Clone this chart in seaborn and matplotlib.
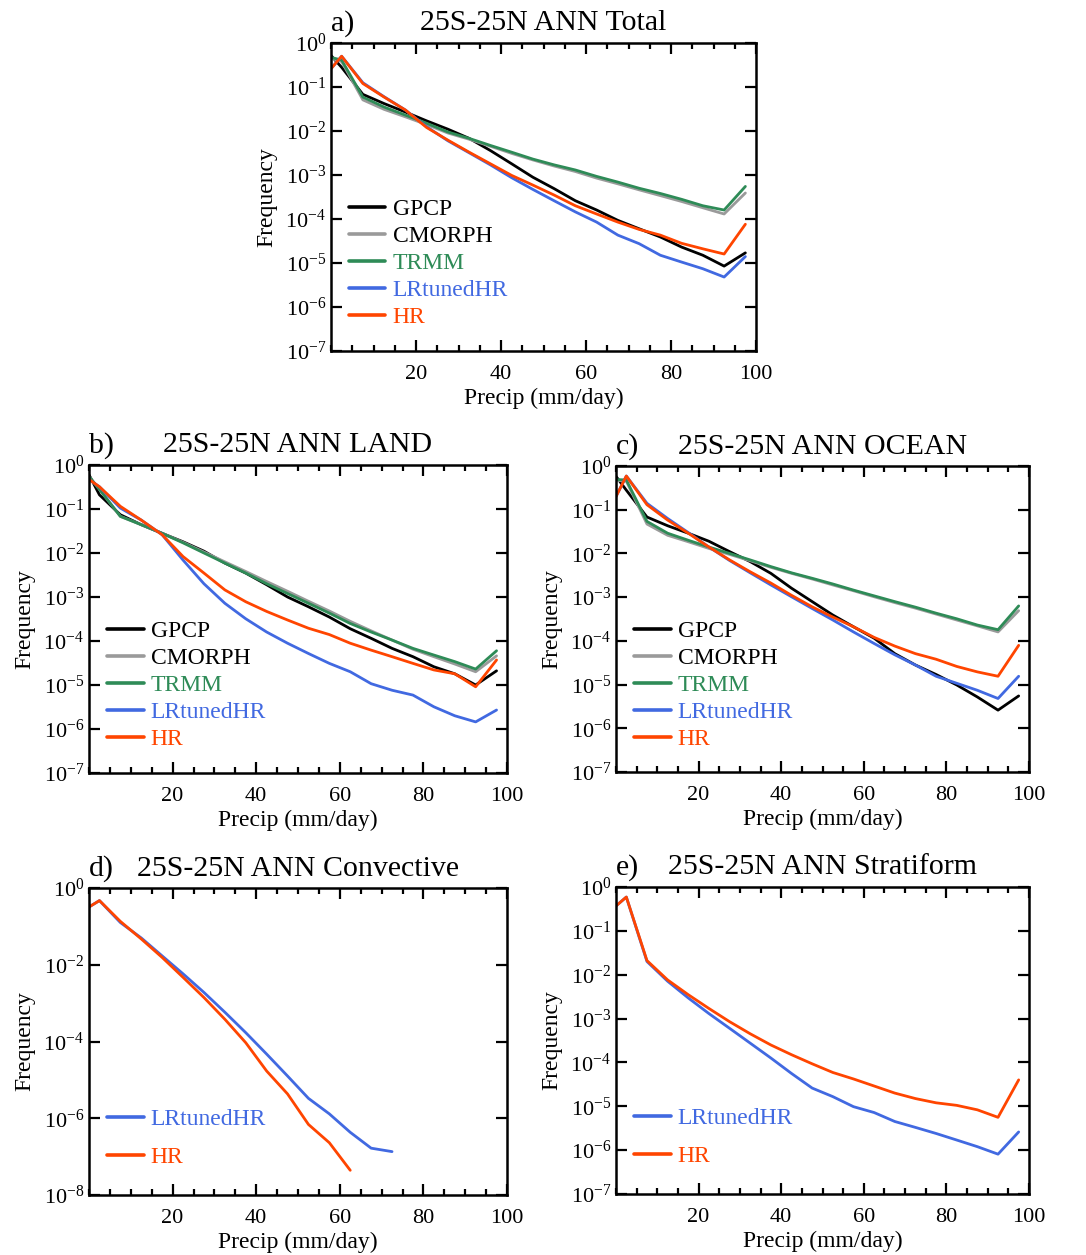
import math
import matplotlib
matplotlib.use("Agg")
import matplotlib.pyplot as plt
import seaborn as sns
from matplotlib.ticker import FixedLocator, MultipleLocator, FuncFormatter, NullLocator

# Bin centres of daily precipitation (mm/day)
precip = [0, 2.5, 7.5, 12.5, 17.5, 22.5, 27.5, 32.5, 37.5, 42.5, 47.5,
          52.5, 57.5, 62.5, 67.5, 72.5, 77.5, 82.5, 87.5, 92.5, 97.5]

# a) Total
total_gpcp = [0.52, 0.28, 6.8e-2, 4.2e-2, 2.7e-2, 1.7e-2, 1.1e-2, 6.8e-3, 3.6e-3, 1.8e-3, 8.9e-4,
              4.9e-4, 2.6e-4, 1.6e-4, 9.3e-5, 6.0e-5, 3.9e-5, 2.3e-5, 1.5e-5, 8.5e-6, 1.7e-5]
total_cmorph = [0.45, 0.38, 5.1e-2, 3.1e-2, 2.1e-2, 1.4e-2, 9.0e-3, 6.5e-3, 4.5e-3, 3.1e-3, 2.2e-3,
                1.6e-3, 1.2e-3, 8.5e-4, 6.3e-4, 4.6e-4, 3.4e-4, 2.5e-4, 1.8e-4, 1.3e-4, 3.9e-4]
total_trmm = [0.47, 0.41, 5.9e-2, 3.5e-2, 2.3e-2, 1.5e-2, 9.5e-3, 6.8e-3, 4.7e-3, 3.3e-3, 2.3e-3,
              1.7e-3, 1.3e-3, 9.3e-4, 6.9e-4, 5.0e-4, 3.8e-4, 2.8e-4, 2.0e-4, 1.6e-4, 5.5e-4]
total_lrtuned = [0.26, 0.50, 1.25e-1, 6.0e-2, 3.0e-2, 1.25e-2, 6.0e-3, 3.2e-3, 1.7e-3, 8.7e-4, 4.7e-4,
                 2.6e-4, 1.45e-4, 8.5e-5, 4.3e-5, 2.75e-5, 1.5e-5, 1.05e-5, 7.4e-6, 4.8e-6, 1.4e-5]
total_hr = [0.26, 0.50, 1.2e-1, 5.9e-2, 3.0e-2, 1.2e-2, 6.2e-3, 3.3e-3, 1.8e-3, 9.8e-4, 5.9e-4,
            3.5e-4, 2.0e-4, 1.3e-4, 8.5e-5, 5.8e-5, 4.3e-5, 2.8e-5, 2.1e-5, 1.6e-5, 7.6e-5]

# b) Land
land_gpcp = [0.60, 0.21, 7.4e-2, 4.4e-2, 2.8e-2, 1.8e-2, 1.1e-2, 5.9e-3, 3.5e-3, 1.9e-3, 1.0e-3,
             6.0e-4, 3.5e-4, 1.9e-4, 1.15e-4, 6.8e-5, 4.4e-5, 2.6e-5, 1.8e-5, 1.0e-5, 2.1e-5]
land_cmorph = [0.55, 0.28, 6.8e-2, 4.4e-2, 2.8e-2, 1.75e-2, 1.05e-2, 6.3e-3, 3.8e-3, 2.25e-3, 1.35e-3,
               8.0e-4, 4.8e-4, 2.8e-4, 1.7e-4, 1.05e-4, 6.5e-5, 4.4e-5, 3.0e-5, 2.0e-5, 4.6e-5]
land_trmm = [0.55, 0.28, 6.8e-2, 4.4e-2, 2.8e-2, 1.7e-2, 1.0e-2, 5.9e-3, 3.5e-3, 2.0e-3, 1.2e-3,
             7.2e-4, 4.3e-4, 2.5e-4, 1.6e-4, 1.05e-4, 6.8e-5, 4.8e-5, 3.4e-5, 2.3e-5, 6.0e-5]
land_lrtuned = [0.47, 0.32, 1.05e-1, 5.6e-2, 2.6e-2, 6.9e-3, 2.0e-3, 7.2e-4, 3.2e-4, 1.6e-4, 8.9e-5,
                5.2e-5, 3.1e-5, 2.0e-5, 1.07e-5, 7.6e-6, 5.9e-6, 3.2e-6, 2.0e-6, 1.45e-6, 2.7e-6]
land_hr = [0.47, 0.32, 1.15e-1, 5.6e-2, 2.6e-2, 8.3e-3, 3.5e-3, 1.45e-3, 7.8e-4, 4.7e-4, 3.0e-4,
           1.95e-4, 1.4e-4, 8.9e-5, 6.2e-5, 4.4e-5, 3.1e-5, 2.2e-5, 1.8e-5, 9.1e-6, 3.7e-5]

# c) Ocean
ocean_gpcp = [0.58, 0.28, 6.8e-2, 4.3e-2, 2.9e-2, 1.9e-2, 1.1e-2, 6.5e-3, 3.5e-3, 1.6e-3, 7.9e-4,
              3.9e-4, 2.1e-4, 1.15e-4, 5.1e-5, 2.8e-5, 1.7e-5, 9.8e-6, 5.2e-6, 2.6e-6, 5.5e-6]
ocean_cmorph = [0.47, 0.45, 4.7e-2, 2.6e-2, 1.85e-2, 1.3e-2, 9.5e-3, 6.8e-3, 4.8e-3, 3.5e-3, 2.6e-3,
                1.9e-3, 1.4e-3, 1.02e-3, 7.5e-4, 5.6e-4, 4.1e-4, 3.0e-4, 2.2e-4, 1.6e-4, 4.9e-4]
ocean_trmm = [0.49, 0.48, 5.4e-2, 2.9e-2, 2.0e-2, 1.4e-2, 1.0e-2, 7.1e-3, 5.0e-3, 3.6e-3, 2.7e-3,
              2.0e-3, 1.45e-3, 1.07e-3, 7.9e-4, 5.9e-4, 4.3e-4, 3.2e-4, 2.3e-4, 1.8e-4, 6.3e-4]
ocean_lrtuned = [0.20, 0.59, 1.4e-1, 6.3e-2, 3.0e-2, 1.4e-2, 6.9e-3, 3.6e-3, 1.9e-3, 1.02e-3, 5.5e-4,
                 3.0e-4, 1.6e-4, 8.7e-5, 4.8e-5, 2.8e-5, 1.55e-5, 1.07e-5, 7.4e-6, 4.8e-6, 1.55e-5]
ocean_hr = [0.20, 0.59, 1.3e-1, 5.8e-2, 2.9e-2, 1.4e-2, 7.1e-3, 3.8e-3, 2.1e-3, 1.1e-3, 6.0e-4,
            3.5e-4, 2.1e-4, 1.2e-4, 7.6e-5, 5.1e-5, 3.8e-5, 2.6e-5, 1.95e-5, 1.55e-5, 7.9e-5]

# d) Convective (series stop where counts vanish)
conv_lrtuned = [0.32, 0.47, 1.26e-1, 5.0e-2, 1.7e-2, 5.8e-3, 1.9e-3, 5.8e-4, 1.7e-4, 4.7e-5, 1.26e-5,
                3.3e-6, 1.3e-6, 4.3e-7, 1.66e-7, 1.35e-7]
conv_hr = [0.32, 0.47, 1.35e-1, 4.7e-2, 1.55e-2, 4.7e-3, 1.4e-3, 3.8e-4, 9.3e-5, 1.7e-5, 4.3e-6,
           6.9e-7, 2.3e-7, 4.4e-8]

# e) Stratiform
strat_lrtuned = [0.37, 0.59, 2.0e-2, 7.1e-3, 2.95e-3, 1.3e-3, 6.0e-4, 2.75e-4, 1.26e-4, 5.6e-5, 2.6e-5,
                 1.66e-5, 9.8e-6, 7.2e-6, 4.5e-6, 3.3e-6, 2.4e-6, 1.7e-6, 1.2e-6, 8.1e-7, 2.6e-6]
strat_hr = [0.37, 0.59, 2.1e-2, 7.6e-3, 3.5e-3, 1.7e-3, 8.5e-4, 4.5e-4, 2.5e-4, 1.5e-4, 9.3e-5,
            5.9e-5, 4.2e-5, 2.9e-5, 2.0e-5, 1.5e-5, 1.2e-5, 1.05e-5, 8.3e-6, 5.6e-6, 4.0e-5]

names = ["GPCP", "CMORPH", "TRMM", "LRtunedHR", "HR"]
line_colors = {"GPCP": "#000000", "CMORPH": "#9a9a9a", "TRMM": "#2e8b57",
               "LRtunedHR": "#4169e1", "HR": "#ff4500"}
text_colors = {"GPCP": "#000000", "CMORPH": "#000000", "TRMM": "#2e8b57",
               "LRtunedHR": "#4169e1", "HR": "#ff4500"}

sns.set_theme(style="ticks")
plt.rcParams["font.family"] = ["Liberation Serif", "DejaVu Serif"]
plt.rcParams["mathtext.fontset"] = "custom"
plt.rcParams["mathtext.rm"] = "Liberation Serif"
plt.rcParams["mathtext.it"] = "Liberation Serif:italic"
plt.rcParams["mathtext.bf"] = "Liberation Serif:bold"
for key in ["text.color", "axes.labelcolor", "xtick.color", "ytick.color",
            "axes.edgecolor"]:
    plt.rcParams[key] = "black"

W, H = 1086, 1255
fig = plt.figure(figsize=(W / 100, H / 100), dpi=100)
fig.patch.set_facecolor("white")


def make_axes(left, top, right, bottom):
    return fig.add_axes([left / W, 1 - bottom / H, (right - left) / W, (bottom - top) / H])


def pow10(v, pos):
    return r"$10^{%d}$" % round(math.log10(v))


def style_axes(ax, letter, title, yticks, ylim):
    ax.set_yscale("log")
    ax.set_xlim(0, 100)
    ax.set_ylim(*ylim)
    ax.xaxis.set_major_locator(FixedLocator([20, 40, 60, 80, 100]))
    ax.xaxis.set_minor_locator(MultipleLocator(5))
    ax.yaxis.set_major_locator(FixedLocator(yticks))
    ax.yaxis.set_major_formatter(FuncFormatter(pow10))
    ax.yaxis.set_minor_locator(NullLocator())
    ax.tick_params(which="both", direction="in", top=True, right=True,
                   labelsize=16, colors="black", width=1.6)
    ax.tick_params(which="major", length=8)
    ax.tick_params(which="minor", length=4)
    ax.tick_params(axis="x", which="major", pad=10)
    ax.tick_params(axis="y", which="major", pad=3.5)
    for s in ax.spines.values():
        s.set_linewidth(1.8)
        s.set_color("black")
    ax.set_xlabel("Precip (mm/day)", fontsize=17, labelpad=3)
    ax.set_ylabel("Frequency", fontsize=17, labelpad=6)
    ax.set_title(title, fontsize=21.5, pad=9, color="black")
    ax.set_title(letter, loc="left", fontsize=21.5, pad=9, color="black")


def draw(ax, series, order, anchor, spacing):
    for name in order:
        sns.lineplot(x=precip[:len(series[name])], y=series[name], ax=ax,
                     color=line_colors[name], lw=2.0, label=name, sort=False,
                     estimator=None)
    leg = ax.legend(loc="upper left", bbox_to_anchor=anchor, frameon=False,
                    fontsize=17, handlelength=1.55, handletextpad=0.3,
                    borderpad=0, borderaxespad=0, labelspacing=spacing)
    for t, name in zip(leg.get_texts(), order):
        t.set_color(text_colors[name])
    for h in leg.get_lines():
        h.set_linewidth(2.6)


dec7 = [1e0, 1e-1, 1e-2, 1e-3, 1e-4, 1e-5, 1e-6, 1e-7]

ax_a = make_axes(331, 43, 756, 351)
draw(ax_a, {"GPCP": total_gpcp, "CMORPH": total_cmorph, "TRMM": total_trmm,
            "LRtunedHR": total_lrtuned, "HR": total_hr}, names, (0.042, 0.494), 0.23)
style_axes(ax_a, "a)", "25S-25N ANN Total", dec7, (1e-7, 1))

ax_b = make_axes(89, 465, 507, 773)
draw(ax_b, {"GPCP": land_gpcp, "CMORPH": land_cmorph, "TRMM": land_trmm,
            "LRtunedHR": land_lrtuned, "HR": land_hr}, names, (0.043, 0.494), 0.23)
style_axes(ax_b, "b)", "25S-25N ANN LAND", dec7, (1e-7, 1))

ax_c = make_axes(616, 466, 1029, 772)
draw(ax_c, {"GPCP": ocean_gpcp, "CMORPH": ocean_cmorph, "TRMM": ocean_trmm,
            "LRtunedHR": ocean_lrtuned, "HR": ocean_hr}, names, (0.044, 0.494), 0.23)
style_axes(ax_c, "c)", "25S-25N ANN OCEAN", dec7, (1e-7, 1))

ax_d = make_axes(89, 888, 507, 1195)
draw(ax_d, {"LRtunedHR": conv_lrtuned, "HR": conv_hr}, ["LRtunedHR", "HR"],
     (0.043, 0.282), 0.69)
style_axes(ax_d, "d)", "25S-25N ANN Convective", [1e0, 1e-2, 1e-4, 1e-6, 1e-8], (1e-8, 1))

ax_e = make_axes(616, 887, 1029, 1194)
draw(ax_e, {"LRtunedHR": strat_lrtuned, "HR": strat_hr}, ["LRtunedHR", "HR"],
     (0.044, 0.282), 0.69)
style_axes(ax_e, "e)", "25S-25N ANN Stratiform", dec7, (1e-7, 1))

fig.savefig("out.png", dpi=100, facecolor="white")
